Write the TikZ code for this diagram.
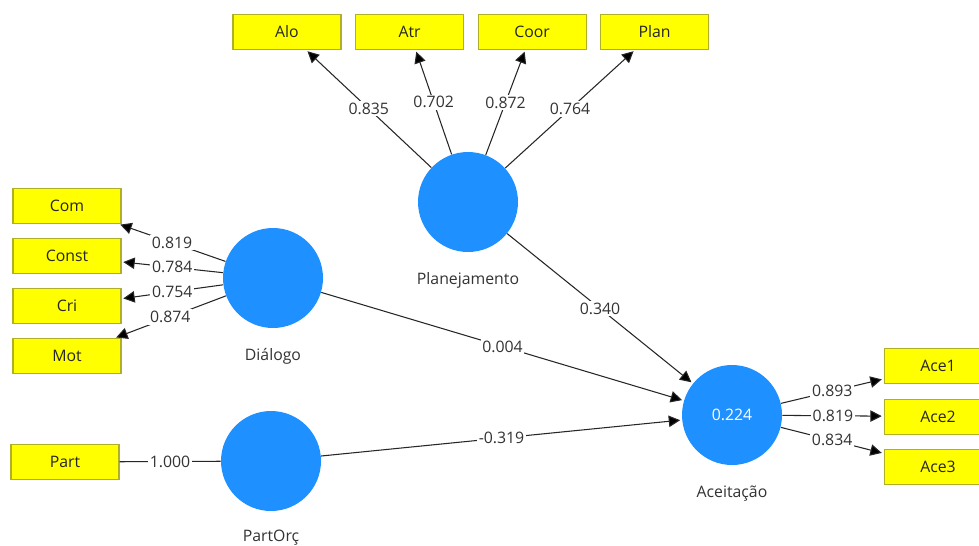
\documentclass[tikz,border=0pt]{standalone}
\usepackage{fontspec}
\setmainfont{Open Sans}
\usetikzlibrary{arrows.meta, positioning}
\definecolor{lvblue}{RGB}{30,144,255}
\definecolor{indyellow}{RGB}{255,255,0}
\definecolor{indborder}{RGB}{175,175,40}
\tikzset{
  ind/.style={rectangle, draw=indborder, fill=indyellow, line width=0.6pt,
              minimum width=2.16cm, minimum height=0.7cm, inner sep=0pt,
              font=\fontsize{9}{10}\selectfont, text=black!85},
  lv/.style={circle, fill=lvblue, minimum size=2cm, inner sep=0pt,
             font=\fontsize{9}{10}\selectfont, text=white},
  lvname/.style={font=\fontsize{9}{10}\selectfont, text=black!80},
  coef/.style={fill=white, inner sep=1pt, font=\fontsize{9}{10}\selectfont,
               text=black!80},
  load/.style={-{Triangle[length=6.5pt, width=6.5pt, fill=black]},
               line width=0.6pt, draw=black!85, shorten >=1pt},
  link/.style={line width=0.6pt, draw=black!85},
}

\begin{document}
\begin{tikzpicture}[x=0.02cm, y=-0.02cm, node distance=0.27cm]
  \clip (0,0) rectangle (979,545);
  \fill[white] (0,0) rectangle (979,545);

  % latent variables
  \node[lv] (plan) at (468,202) {};
  \node[lvname, below=0.27cm of plan] (planlbl) {Planejamento};
  \node[lv] (dial) at (273,278) {};
  \node[lvname, below=0.27cm of dial] (diallbl) {Diálogo};
  \node[lv] (part) at (271,461) {};
  \node[lvname, below=0.25cm of part] (partlbl) {PartOrç};
  \node[lv] (ace) at (732,415) {0.224};
  \node[lvname, below=0.28cm of ace] (acelbl) {Aceitação};

  % indicators
  \node[ind] (alo) at (287,32) {Alo};
  \node[ind, right=of alo] (atr) {Atr};
  \node[ind, right=of atr] (coor) {Coor};
  \node[ind, right=of coor] (plani) {Plan};

  \node[ind] (com) at (67,206) {Com};
  \node[ind, below=0.28cm of com] (const) {Const};
  \node[ind, below=0.28cm of const] (cri) {Cri};
  \node[ind, below=0.28cm of cri] (mot) {Mot};

  \node[ind] (parti) at (65,462) {Part};

  \node[ind] (ace1) at (938,366) {Ace1};
  \node[ind, below=0.29cm of ace1] (ace2) {Ace2};
  \node[ind, below=0.29cm of ace2] (ace3) {Ace3};

  % outer loadings
  \foreach \t/\v in {alo/0.835, atr/0.702, coor/0.872, plani/0.764}
    \draw[load] (plan) -- (\t) node[coef, midway] {\v};
  \foreach \t/\v in {com/0.819, const/0.784, cri/0.754, mot/0.874}
    \draw[load] (dial) -- (\t) node[coef, midway] {\v};
  \foreach \t/\v in {ace1/0.893, ace2/0.819, ace3/0.834}
    \draw[load] (ace) -- (\t) node[coef, midway] {\v};
  \draw[link] (parti) -- (part) node[coef, midway] {1.000};

  % path coefficients
  \draw[load] (plan) -- (ace) node[coef, midway] {0.340};
  \draw[load] (dial) -- (ace) node[coef, midway] {0.004};
  \draw[load] (part) -- (ace) node[coef, midway] {-0.319};
\end{tikzpicture}
\end{document}
